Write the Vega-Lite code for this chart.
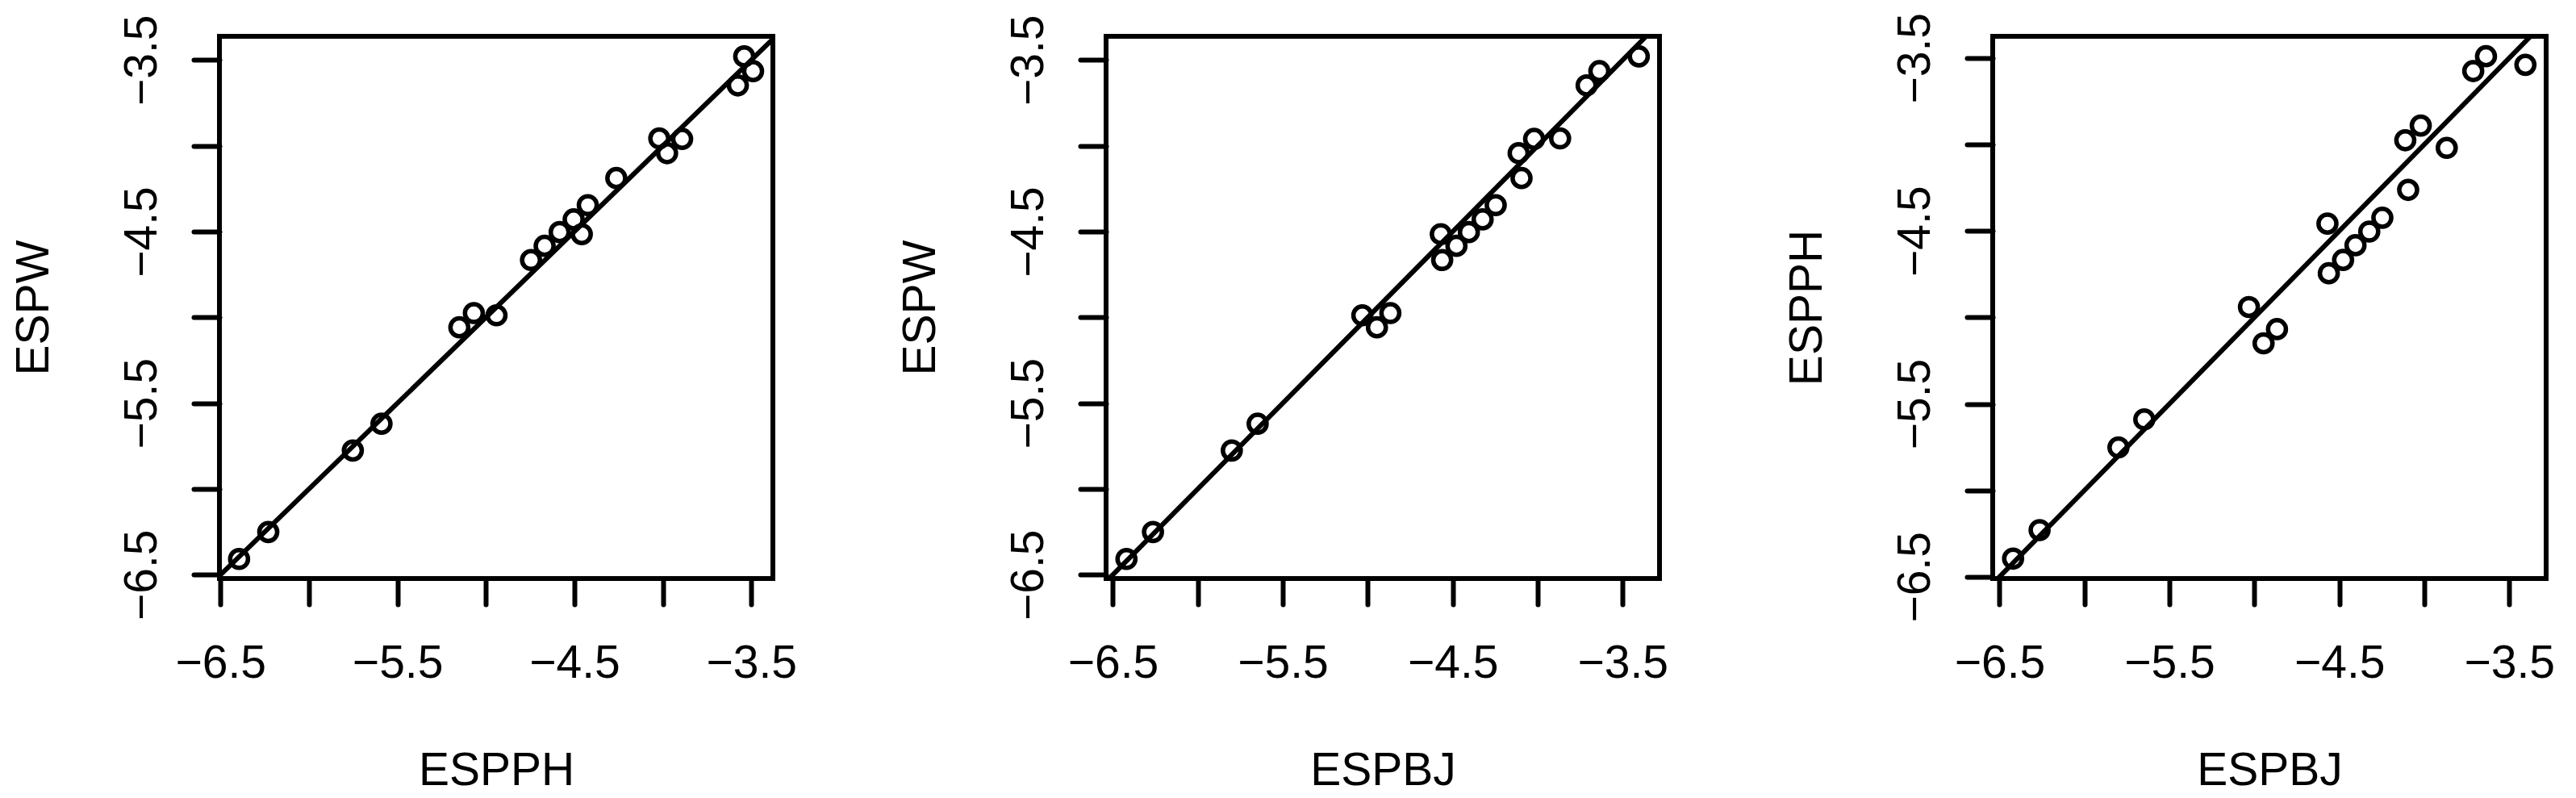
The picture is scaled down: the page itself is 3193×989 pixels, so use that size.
{
  "$schema": "https://vega.github.io/schema/vega-lite/v6.json",
  "background": "white",
  "padding": {"left": 10, "top": 12, "right": 5, "bottom": 5},
  "datasets": {
    "obs": [
      {"ESPBJ": -6.42, "ESPW": -6.408, "ESPPH": -6.395},
      {"ESPBJ": -6.264, "ESPW": -6.251, "ESPPH": -6.23},
      {"ESPBJ": -5.8, "ESPW": -5.776, "ESPPH": -5.752},
      {"ESPBJ": -5.648, "ESPW": -5.62, "ESPPH": -5.59},
      {"ESPBJ": -5.032, "ESPW": -4.988, "ESPPH": -4.94},
      {"ESPBJ": -4.946, "ESPW": -5.058, "ESPPH": -5.15},
      {"ESPBJ": -4.867, "ESPW": -4.975, "ESPPH": -5.068},
      {"ESPBJ": -4.57, "ESPW": -4.515, "ESPPH": -4.458},
      {"ESPBJ": -4.562, "ESPW": -4.666, "ESPPH": -4.745},
      {"ESPBJ": -4.478, "ESPW": -4.583, "ESPPH": -4.668},
      {"ESPBJ": -4.405, "ESPW": -4.503, "ESPPH": -4.583},
      {"ESPBJ": -4.324, "ESPW": -4.429, "ESPPH": -4.504},
      {"ESPBJ": -4.247, "ESPW": -4.346, "ESPPH": -4.424},
      {"ESPBJ": -4.112, "ESPW": -4.043, "ESPPH": -3.976},
      {"ESPBJ": -4.095, "ESPW": -4.188, "ESPPH": -4.263},
      {"ESPBJ": -4.021, "ESPW": -3.96, "ESPPH": -3.891},
      {"ESPBJ": -3.868, "ESPW": -3.957, "ESPPH": -4.02},
      {"ESPBJ": -3.712, "ESPW": -3.648, "ESPPH": -3.576},
      {"ESPBJ": -3.637, "ESPW": -3.565, "ESPPH": -3.49},
      {"ESPBJ": -3.405, "ESPW": -3.479, "ESPPH": -3.54}
    ],
    "diag": [{"v": -7}, {"v": -3}]
  },
  "hconcat": [
    {
      "width": 686, "height": 672,
      "layer": [
        {
          "data": {"name": "obs"},
          "mark": {"type": "point", "shape": "circle", "filled": false, "color": "black", "strokeWidth": 5.5, "size": 490, "opacity": 1},
          "encoding": {
            "x": {"field": "ESPPH", "type": "quantitative", "title": "ESPPH", "axis": {"values": [-6.5, -6, -5.5, -5, -4.5, -4, -3.5]}, "scale": {"domain": [-6.506, -3.378], "nice": false, "zero": false}},
            "y": {"field": "ESPW", "type": "quantitative", "title": "ESPW", "axis": {"values": [-6.5, -6, -5.5, -5, -4.5, -4, -3.5]}, "scale": {"domain": [-6.522, -3.362], "nice": false, "zero": false}}
          }
        },
        {
          "data": {"name": "diag"},
          "mark": {"type": "line", "color": "black", "strokeWidth": 6, "clip": true},
          "encoding": {
            "x": {"field": "v", "type": "quantitative"},
            "y": {"field": "v", "type": "quantitative"}
          }
        }
      ]
    },
    {
      "width": 686, "height": 672,
      "layer": [
        {
          "data": {"name": "obs"},
          "mark": {"type": "point", "shape": "circle", "filled": false, "color": "black", "strokeWidth": 5.5, "size": 490, "opacity": 1},
          "encoding": {
            "x": {"field": "ESPBJ", "type": "quantitative", "title": "ESPBJ", "axis": {"values": [-6.5, -6, -5.5, -5, -4.5, -4, -3.5]}, "scale": {"domain": [-6.54, -3.283], "nice": false, "zero": false}},
            "y": {"field": "ESPW", "type": "quantitative", "title": "ESPW", "axis": {"values": [-6.5, -6, -5.5, -5, -4.5, -4, -3.5]}, "scale": {"domain": [-6.522, -3.362], "nice": false, "zero": false}}
          }
        },
        {
          "data": {"name": "diag"},
          "mark": {"type": "line", "color": "black", "strokeWidth": 6, "clip": true},
          "encoding": {
            "x": {"field": "v", "type": "quantitative"},
            "y": {"field": "v", "type": "quantitative"}
          }
        }
      ]
    },
    {
      "width": 686, "height": 672,
      "layer": [
        {
          "data": {"name": "obs"},
          "mark": {"type": "point", "shape": "circle", "filled": false, "color": "black", "strokeWidth": 5.5, "size": 490, "opacity": 1},
          "encoding": {
            "x": {"field": "ESPBJ", "type": "quantitative", "title": "ESPBJ", "axis": {"values": [-6.5, -6, -5.5, -5, -4.5, -4, -3.5]}, "scale": {"domain": [-6.54, -3.283], "nice": false, "zero": false}},
            "y": {"field": "ESPPH", "type": "quantitative", "title": "ESPPH", "axis": {"values": [-6.5, -6, -5.5, -5, -4.5, -4, -3.5]}, "scale": {"domain": [-6.51, -3.375], "nice": false, "zero": false}}
          }
        },
        {
          "data": {"name": "diag"},
          "mark": {"type": "line", "color": "black", "strokeWidth": 6, "clip": true},
          "encoding": {
            "x": {"field": "v", "type": "quantitative"},
            "y": {"field": "v", "type": "quantitative"}
          }
        }
      ]
    }
  ],
  "spacing": 413,
  "bounds": "flush",
  "config": {
    "font": "Liberation Sans",
    "view": {"stroke": "black", "strokeWidth": 6},
    "axis": {
      "domain": false,
      "grid": false,
      "ticks": true,
      "tickSize": 32,
      "tickWidth": 6,
      "tickColor": "black",
      "tickCap": "round",
      "labelExpr": "indexof([-6.5,-5.5,-4.5,-3.5], datum.value) >= 0 ? replace(format(datum.value, '.1f'), '-', '\u2212') : ''",
      "labelFont": "Liberation Sans",
      "labelFontSize": 57,
      "labelColor": "black",
      "labelOverlap": false,
      "labelFlush": false,
      "titleFont": "Liberation Sans",
      "titleFontSize": 57,
      "titleFontWeight": "normal",
      "titleColor": "black"
    },
    "axisX": {
      "labelAngle": 0,
      "labelAlign": "center",
      "labelBaseline": "alphabetic",
      "labelPadding": 90,
      "titleBaseline": "alphabetic",
      "titleAlign": "center",
      "titleX": 343,
      "titleY": 255
    },
    "axisY": {
      "labelAngle": 270,
      "labelAlign": "center",
      "labelBaseline": "alphabetic",
      "labelPadding": 47,
      "titleAngle": 270,
      "titleBaseline": "alphabetic",
      "titleAlign": "center",
      "titleX": -213,
      "titleY": 336
    }
  }
}
